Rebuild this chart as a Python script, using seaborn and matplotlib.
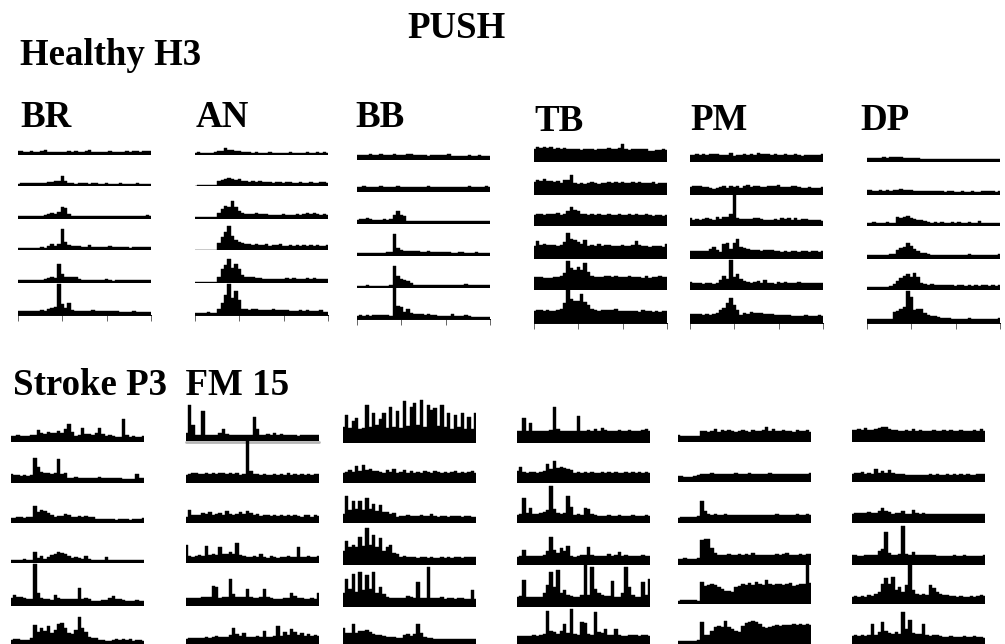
import numpy as np
import pandas as pd
import matplotlib
matplotlib.use("Agg")
import matplotlib.pyplot as plt
import seaborn as sns

# envelope height of each trace, six rows per muscle, 40 time bins per row
BR = [
    [4,4,3,3,4,3,3,4,5,3,3,3,3,3,3,4,3,4,3,3,4,5,3,3,3,3,3,4,3,3,3,3,4,3,4,4,3,4,4,4],
    [2,3,3,3,3,3,3,3,3,4,4,5,5,10,5,3,3,2,3,3,3,2,3,3,2,2,3,2,2,2,3,2,2,2,2,3,2,2,2,2],
    [3,3,3,3,3,3,3,3,4,5,6,5,7,12,11,5,3,3,3,3,3,3,3,3,3,3,3,3,3,3,3,3,3,3,3,3,3,3,4,3],
    [2,2,2,2,2,2,2,3,2,4,6,4,6,21,8,5,4,4,4,3,3,5,3,3,3,3,3,4,3,3,3,3,3,2,3,3,3,3,3,3],
    [3,3,3,3,3,3,3,3,4,5,6,5,19,9,6,6,6,6,4,3,3,3,3,3,3,3,4,3,2,3,3,3,3,3,3,3,3,3,3,3],
    [4,4,4,4,4,4,4,5,4,6,7,8,31,11,7,12,5,4,4,4,4,4,5,4,4,4,4,4,4,4,3,3,3,3,4,3,3,3,3,3],
]
AN = [
    [2,3,2,2,2,2,3,4,4,7,5,5,4,4,3,3,3,2,3,2,2,2,3,2,2,2,2,2,3,2,2,2,2,3,2,2,3,2,3,2],
    [0.5,1,1,1,1,1,1,5,6,7,8,7,6,7,5,5,4,5,4,5,4,4,4,3,4,4,3,4,4,3,3,4,3,3,4,3,3,4,4,3],
    [2,2,2,2,2,2,2,6,10,13,12,18,12,8,6,5,5,5,6,5,5,5,4,4,4,4,5,4,4,4,5,4,5,6,5,6,5,4,5,4],
    [0.5,0.5,0.5,0.5,0.5,0.5,0.5,7,13,18,24,14,10,8,7,6,6,5,6,5,5,6,4,5,5,6,4,4,5,4,5,4,5,4,5,4,5,4,4,5],
    [1,1,1,1,1,1,1,6,14,18,24,15,19,14,8,6,6,6,5,5,4,4,4,4,4,4,4,5,4,5,4,4,4,5,4,5,4,4,4,4],
    [2,2,2,2,3,2,2,6,12,20,31,17,24,15,6,6,5,6,6,5,5,5,5,6,5,5,5,5,4,4,4,5,4,5,4,4,4,5,3,3],
]
BB = [
    [5,5,5,5,6,5,5,6,5,5,5,6,5,5,5,6,6,5,5,5,5,4,5,5,5,5,5,6,4,4,4,4,4,5,4,4,5,4,4,4],
    [5,5,6,5,5,5,5,6,5,5,5,5,6,5,5,5,5,5,5,5,5,6,5,5,5,5,5,5,5,5,5,5,5,6,5,5,5,5,6,5],
    [4,5,5,6,5,4,4,4,5,4,5,9,13,9,8,3,3,3,3,3,3,3,3,3,3,3,3,3,3,3,3,3,3,3,3,3,3,3,3,3],
    [3,3,3,3,3,3,3,3,3,4,4,22,8,6,5,5,5,5,5,4,4,5,4,4,4,4,4,4,3,3,4,4,3,3,3,4,3,3,3,3],
    [2,2,2,3,2,2,2,2,2,2,3,22,12,9,8,7,5,3,3,3,3,3,3,3,3,3,3,3,3,3,3,3,4,3,3,3,3,3,3,3],
    [3,4,3,4,3,4,4,4,4,4,3,31,13,12,7,10,6,5,5,5,4,5,4,4,3,3,3,3,5,3,3,3,4,3,2,2,2,2,2,2],
]
TB = [
    [13,15,14,15,14,15,13,14,13,14,13,13,13,13,12,13,13,13,12,13,13,13,14,13,13,14,18,13,12,13,13,13,13,13,11,11,12,12,13,12],
    [13,15,14,16,14,14,13,14,12,15,15,20,12,11,12,11,12,13,12,11,12,12,13,12,13,12,13,12,12,13,12,13,12,12,12,13,11,12,12,12],
    [11,12,12,11,12,12,12,13,11,12,15,19,16,15,12,12,11,12,11,12,11,11,12,11,11,12,11,11,12,11,12,11,11,12,11,10,11,11,10,11],
    [13,18,14,15,14,14,14,13,14,17,26,20,19,17,15,19,13,14,13,15,13,14,14,13,13,13,14,13,13,14,18,14,13,13,12,13,13,13,12,15],
    [13,13,13,12,12,12,13,13,14,17,29,22,20,23,20,27,18,14,13,13,13,14,14,13,14,13,13,13,14,13,13,13,12,14,12,13,13,14,13,13],
    [12,13,13,12,13,12,12,13,14,20,33,24,22,22,29,21,18,14,13,12,13,13,13,13,14,12,12,12,12,12,12,11,13,12,12,11,12,11,12,12],
]
PM = [
    [7,7,8,7,8,7,8,8,8,7,7,7,9,6,7,7,8,7,8,7,9,8,8,8,7,8,7,7,8,7,7,8,7,6,7,7,7,7,7,8],
    [8,9,9,9,8,8,7,6,7,8,9,7,9,8,9,7,9,10,8,9,9,8,8,9,9,9,10,8,8,8,9,9,8,7,7,8,7,7,7,8],
    [8,6,7,6,7,8,7,6,9,7,9,9,12,32,8,7,7,7,7,8,8,7,6,6,6,7,6,8,7,8,6,8,6,7,7,6,6,6,6,5],
    [8,8,8,8,8,8,10,12,9,7,15,16,10,16,20,12,11,10,9,9,9,8,9,9,9,8,8,7,8,7,8,8,7,8,8,7,8,8,7,8],
    [8,7,7,7,6,7,7,6,7,10,14,11,30,13,16,11,9,8,7,8,9,7,10,7,7,6,8,7,8,7,7,7,8,7,7,7,7,7,7,7],
    [9,9,9,9,8,9,8,9,10,13,15,20,25,18,13,8,10,9,11,10,10,10,9,9,9,8,8,8,8,8,7,7,7,7,8,7,7,7,8,7],
]
DP = [
    [4,4,4,4,4,5,4,5,5,5,5,4,4,4,4,4,3,3,3,3,3,3,3,3,3,3,3,3,3,3,3,3,3,3,3,3,3,3,3,3],
    [5,5,4,4,5,4,5,4,5,5,6,5,5,5,4,4,4,4,4,4,4,4,4,3,4,4,3,3,4,3,3,4,3,3,4,4,4,4,3,4],
    [3,3,4,3,3,3,4,3,3,9,8,9,10,8,7,6,6,5,4,3,4,3,4,3,3,4,3,4,3,3,4,3,3,5,3,3,3,3,3,3],
    [4,4,4,4,4,4,4,5,5,9,11,12,16,13,10,8,6,6,5,4,4,4,4,4,4,4,4,4,4,4,5,4,4,4,4,4,4,4,4,5],
    [3,3,3,3,3,3,3,4,6,9,12,14,16,13,17,13,7,6,5,6,5,5,5,5,5,5,4,5,5,4,5,4,5,4,5,5,4,5,4,5],
    [4,4,4,4,4,4,4,4,11,12,14,16,32,26,13,14,14,10,8,7,7,6,5,5,5,4,4,4,4,4,5,4,4,4,4,4,4,4,4,5],
]

BR_S = [
    [6,6,7,6,6,6,7,7,12,9,8,10,9,9,11,9,13,18,10,6,7,14,8,8,7,9,14,8,6,7,6,5,5,23,7,5,6,5,5,6],
    [9,8,8,7,8,7,8,25,16,11,10,10,9,10,24,9,10,5,5,6,5,5,5,5,5,5,6,5,5,5,5,5,5,4,4,4,4,9,5,5],
    [5,5,6,6,5,6,6,17,11,13,12,10,8,6,7,7,9,8,6,6,7,6,7,6,6,4,4,4,4,4,4,3,4,4,4,3,4,4,4,5],
    [3,3,3,3,4,3,3,11,5,7,4,6,8,9,11,10,9,7,5,6,5,4,7,4,3,3,3,3,6,3,3,3,3,3,3,3,3,3,3,3],
    [8,11,9,9,8,7,7,42,13,8,7,7,6,11,8,7,7,7,7,7,18,7,8,7,5,5,5,6,6,8,10,7,7,6,5,5,5,6,5,5],
    [4,5,5,4,4,4,6,19,12,16,13,18,11,14,20,21,16,11,10,14,27,16,12,7,6,6,4,4,3,3,4,5,4,5,4,5,3,4,4,3],
]
AN_S = [
    [8,36,16,6,6,30,6,6,6,6,8,12,7,6,6,6,6,6,6,6,24,12,6,6,7,6,8,6,7,6,6,6,6,5,6,6,6,6,6,6],
    [8,9,10,10,9,9,10,9,10,9,10,10,9,10,9,10,8,9,42,12,9,9,8,9,8,8,9,8,9,8,10,8,9,8,9,8,9,8,9,9],
    [6,13,8,8,8,10,9,11,8,9,10,8,12,9,8,9,11,9,12,10,8,9,7,8,8,7,8,7,8,7,8,7,8,7,6,8,8,6,8,7],
    [18,7,6,7,8,7,17,8,9,8,16,9,9,11,9,20,8,7,6,6,7,6,9,6,5,7,6,5,6,6,7,6,6,16,6,6,7,6,6,7],
    [8,8,8,8,8,9,9,9,20,19,8,9,9,27,12,9,9,9,17,9,8,8,9,17,9,8,7,7,7,8,8,13,10,8,8,7,7,8,7,13],
    [5,6,6,6,6,6,7,6,7,8,7,7,7,9,16,10,8,11,7,7,7,8,7,13,7,7,8,18,8,12,9,15,12,9,11,8,10,8,9,8],
]
BB_S = [
    [16,28,15,22,25,14,15,38,16,30,18,24,30,15,36,16,32,15,42,17,36,40,18,43,16,38,33,35,17,38,16,30,14,28,16,30,14,26,14,30],
    [10,11,13,11,17,12,18,13,14,12,12,11,10,13,11,14,10,11,13,10,12,10,11,10,12,11,10,12,11,10,11,10,11,12,10,11,10,11,12,10],
    [9,27,13,22,14,22,13,25,14,19,12,18,11,11,9,10,6,7,7,8,7,7,7,8,7,7,9,7,6,7,7,6,7,7,7,6,7,7,6,6],
    [14,24,18,20,18,28,19,37,20,30,18,27,14,18,20,12,11,8,9,8,8,8,7,8,8,7,8,7,7,8,7,8,7,8,8,7,8,8,8,8],
    [14,28,18,33,15,35,17,32,18,35,14,20,13,10,9,9,9,9,9,11,10,9,25,9,9,40,9,9,9,10,8,9,9,8,9,9,8,8,17,8],
    [16,11,11,20,11,13,13,14,12,10,9,9,8,7,7,7,6,6,9,10,8,10,20,11,7,6,6,5,5,5,5,5,5,5,5,5,5,5,5,5],
]
TB_S = [
    [12,12,25,12,20,12,12,12,12,12,13,36,14,12,12,12,12,12,27,12,12,13,12,14,12,15,13,12,12,12,13,12,12,13,12,12,12,13,14,12],
    [12,16,11,10,11,11,10,11,12,19,14,22,15,16,15,14,13,10,11,10,11,10,11,10,10,11,10,11,10,11,10,10,11,10,11,10,11,10,11,10],
    [8,9,25,10,15,9,9,10,11,13,37,14,10,9,10,27,16,8,9,8,15,14,9,8,7,7,7,8,7,7,8,7,7,7,8,7,7,7,8,7],
    [8,9,15,9,9,9,9,9,10,14,28,15,12,17,14,19,9,8,9,10,10,18,10,9,9,9,9,11,9,10,13,9,10,9,9,9,9,10,9,9],
    [10,11,27,10,10,10,10,10,14,22,35,20,37,14,17,12,11,10,10,12,42,12,40,18,14,12,11,11,26,10,10,14,40,20,12,10,10,25,12,28],
    [8,8,8,8,8,9,8,9,10,33,13,12,10,13,20,11,35,10,9,22,21,10,9,32,12,11,15,9,9,15,9,8,8,9,9,9,8,9,9,8],
]
PM_S = [
    [7,6,6,6,6,6,6,11,11,10,11,13,10,12,11,12,11,10,11,12,11,10,12,11,11,12,15,11,13,11,11,12,11,11,10,12,11,11,12,10],
    [6,6,5,5,5,6,7,8,8,8,9,8,8,8,8,8,8,9,8,8,8,9,8,8,8,8,8,9,8,8,8,8,8,8,8,8,8,8,8,9],
    [5,6,6,6,6,6,7,22,12,9,8,9,8,8,9,8,8,8,8,8,8,8,8,8,8,8,8,8,8,9,8,8,8,8,8,9,8,8,9,8],
    [6,6,7,6,6,6,7,25,26,26,17,12,10,10,10,11,10,10,11,10,11,10,12,10,10,10,10,10,10,11,10,11,12,10,10,10,11,10,11,11],
    [3,4,4,4,4,4,3,22,18,19,20,19,17,15,13,13,12,17,18,20,19,21,19,22,20,19,24,20,19,20,20,19,20,21,18,19,20,20,39,21],
    [3,3,3,3,3,3,4,22,9,9,13,17,18,17,23,17,15,13,12,18,21,22,23,22,20,17,16,17,18,19,18,19,19,19,20,19,20,19,20,19],
]
DP_S = [
    [12,12,13,12,14,12,12,13,14,15,15,13,12,12,11,11,12,11,13,11,12,11,11,11,12,11,11,12,11,12,11,11,12,11,11,11,12,11,13,11],
    [8,9,9,10,8,9,8,13,9,11,9,12,9,8,8,8,7,7,7,7,7,7,7,8,7,8,7,7,8,7,8,7,8,7,8,7,7,8,8,8],
    [9,10,10,10,10,11,10,10,12,15,12,11,9,10,10,12,9,9,13,10,9,10,9,9,9,9,9,9,9,9,9,9,9,9,9,9,9,9,9,9],
    [10,10,9,9,10,10,10,10,14,16,33,12,10,10,11,39,11,10,13,10,10,10,10,10,10,9,9,9,9,9,10,9,9,10,9,9,9,9,9,10],
    [7,8,7,8,7,9,8,10,12,20,26,20,27,14,17,12,19,39,14,10,9,10,9,19,16,12,10,9,9,8,8,7,8,7,7,8,7,8,9,8],
    [8,9,8,9,8,9,20,9,12,22,13,11,10,12,10,32,15,24,11,10,10,20,9,8,9,9,8,7,7,8,7,7,7,8,7,7,8,7,7,6],
]

HEADINGS = ["BR", "AN", "BB", "TB", "PM", "DP"]

W, H = 1005, 644
PANEL_W = 133
BAND = 48

# left edge and row baselines in pixels, one entry per column
top_left = [18, 195, 357, 534, 690, 867]
top_base = [
    [155, 186, 219, 250, 283, 315],
    [155, 186, 219, 250, 283, 315],
    [160, 192, 224, 256, 288, 319],
    [162, 195, 226, 259, 290, 323],
    [162, 195, 226, 259, 290, 323],
    [162, 195, 226, 259, 290, 323],
]
bottom_left = [11, 186, 343, 517, 678, 852]
bottom_base = [
    [442, 483, 523, 563, 606, 644],
    [441, 483, 523, 563, 606, 644],
    [443, 483, 523, 565, 607, 644],
    [443, 483, 523, 565, 607, 644],
    [442, 482, 523, 565, 604, 644],
    [442, 482, 523, 565, 604, 644],
]

sns.set_theme(style="white")
fig = plt.figure(figsize=(W / 100, H / 100), dpi=100, facecolor="white")


def draw_trace(values, left, base, show_ticks=False):
    ax = fig.add_axes([left / W, 1 - base / H, PANEL_W / W, BAND / H])
    ax.patch.set_alpha(0)
    df = pd.DataFrame({"bin": np.arange(len(values)), "height": values})
    sns.lineplot(df, x="bin", y="height", color="black", lw=0.3, estimator=None,
                 drawstyle="steps-mid", ax=ax)
    # histogram style fill, matches the blocky bins of the traces
    ax.fill_between(df["bin"], 0, df["height"], step="mid", color="black", lw=0)
    ax.set_xlim(0, len(values) - 1)
    ax.set_ylim(0, BAND)
    ax.set_xlabel("")
    ax.set_ylabel("")
    ax.set_yticks([])
    sns.despine(ax=ax, left=True)
    if show_ticks:
        ax.set_xticks(np.linspace(0, len(values) - 1, 4))
        ax.set_xticklabels([])
        ax.tick_params(axis="x", bottom=True, length=4, width=0.7, color="#666666")
        ax.spines["bottom"].set_color("black")
        ax.spines["bottom"].set_linewidth(0.7)
    else:
        ax.set_xticks([])
        ax.spines["bottom"].set_visible(False)
    return ax


top_group = [BR, AN, BB, TB, PM, DP]
for col, rows in enumerate(top_group):
    for row, values in enumerate(rows):
        draw_trace(values, top_left[col], top_base[col][row], show_ticks=row == 5)

bottom_group = [BR_S, AN_S, BB_S, TB_S, PM_S, DP_S]
for col, rows in enumerate(bottom_group):
    for row, values in enumerate(rows):
        ax = draw_trace(values, bottom_left[col], bottom_base[col][row])
        if col == 1 and row == 0:
            # this one has a grey rule under it
            ax.axhline(-1, color="#b5b5b5", lw=2, clip_on=False)


def label(text, x, y):
    fig.text(x / W, 1 - y / H, text, family="Liberation Serif", weight="bold",
             fontsize=26.6, color="black", va="baseline", ha="left")


label("PUSH", 407, 38)
label("Healthy H3", 20, 65)
label("Stroke P3  FM 15", 13, 395)
heading_x = [20, 196, 355, 534, 690, 860]
heading_y = [127, 127, 127, 131, 130, 130]
for name, x, y in zip(HEADINGS, heading_x, heading_y):
    label(name, x, y)

fig.savefig("out.png", dpi=100)
